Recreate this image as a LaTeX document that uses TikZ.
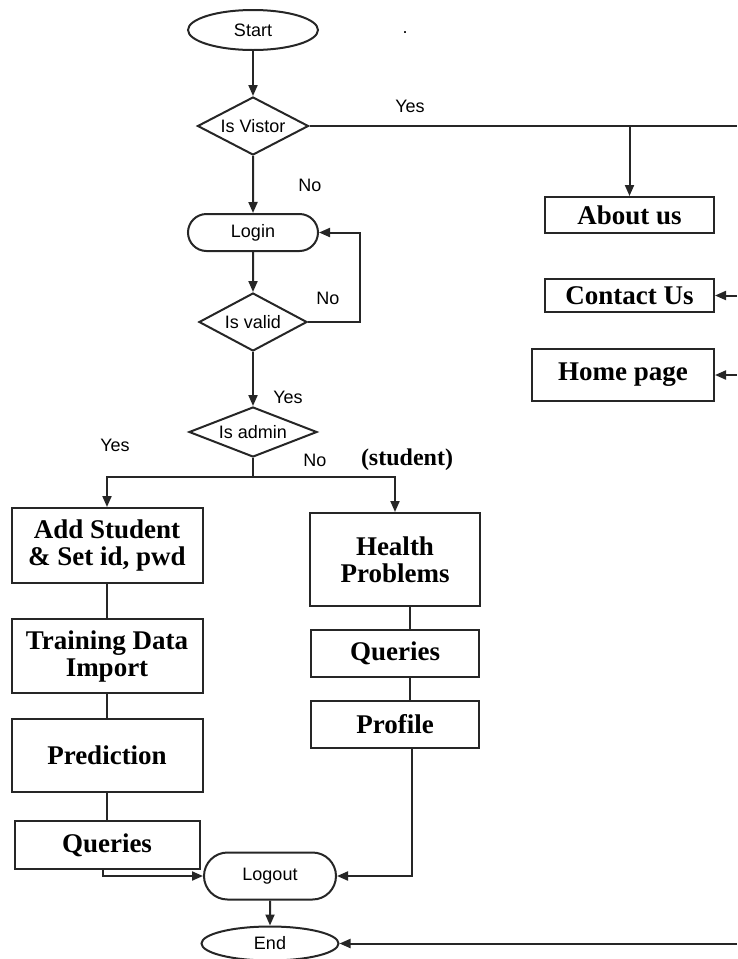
\documentclass[tikz,border=0pt]{standalone}
\usepackage{fontspec}
\setmainfont{Liberation Serif}
\setsansfont{Liberation Sans}
\usetikzlibrary{positioning, arrows.meta, shapes.geometric, shapes.misc}

\begin{document}
\begin{tikzpicture}[
    x=1pt, y=-1pt,
    line width=2pt, draw=black!85,
    every node/.style={align=center, inner sep=0pt},
    %% start / end terminal
    terminal/.style={
        draw, ellipse,
        font=\sffamily\fontsize{18}{21}\selectfont
    },
    %% login / logout
    pill/.style={
        draw, rounded rectangle,
        font=\sffamily\fontsize{18}{21}\selectfont
    },
    %% yes / no question
    decision/.style={
        draw, diamond,
        font=\sffamily\fontsize{18}{21}\selectfont
    },
    %% page or task box
    pagebox/.style={
        draw, rectangle,
        font=\bfseries\fontsize{27}{27}\selectfont
    },
    %% control flow
    flow/.style={-{Triangle[length=11pt,width=9pt]}},
    %% plain connector
    link/.style={-},
    %% edge label
    elab/.style={font=\sffamily\fontsize{18}{21}\selectfont}
]
\useasboundingbox (0,0) rectangle (737,959);

%%-------------------------------------------------------------- nodes
\node[terminal, minimum width=130pt, minimum height=40pt] (start) at (253,30) {Start};

\node[decision, aspect=1.9, minimum width=111pt, minimum height=58pt, below=45pt of start] (isvis) {Is Vistor};

\node[pill, minimum width=130pt, minimum height=37pt, below=57pt of isvis] (login) {Login};

\node[decision, aspect=1.86, minimum width=108pt, minimum height=58pt, below=40pt of login] (isvalid) {Is valid};

\node[decision, aspect=2.56, minimum width=128pt, minimum height=50pt, below=54pt of isvalid] (isadmin) {Is admin};

% visitor pages
\node[pagebox, minimum width=169pt, minimum height=36pt] (about) at (629.5,215) {About us};

\node[pagebox, minimum width=169pt, minimum height=33pt, below=44pt of about] (contact) {Contact Us};

\node[pagebox, minimum width=182pt, minimum height=52pt,
      below=35pt of contact.south east, anchor=north east] (home) {Home page};

% admin branch
\node[pagebox, minimum width=191pt, minimum height=75pt] (addstu) at (107,545.5) {Add Student\\\& Set id, pwd};

\node[pagebox, minimum width=191pt, minimum height=74pt, below=34pt of addstu] (training) {Training Data\\Import};

\node[pagebox, minimum width=191pt, minimum height=73pt, below=24pt of training] (predict) {Prediction};

\node[pagebox, minimum width=185pt, minimum height=48pt, below=27pt of predict] (qadmin) {Queries};

% student branch
\node[pagebox, minimum width=170pt, minimum height=93pt] (health) at (395,559.5) {Health\\Problems};

\node[pagebox, minimum width=168pt, minimum height=47pt, below=22pt of health] (qstudent) {Queries};

\node[pagebox, minimum width=168pt, minimum height=47pt, below=22pt of qstudent] (profile) {Profile};

% exit
\node[pill, minimum width=132pt, minimum height=47pt] (logout) at (270,876) {Logout};

\node[terminal, minimum width=137pt, minimum height=34pt, below=25pt of logout] (endnode) {End};

%%-------------------------------------------------------------- labels
\node[elab] (yesvis)     at (410,106) {Yes};
\node[elab] (novis)      at (310,185) {No};
\node[elab] (novalid)    at (328,298) {No};
\node[elab] (yesvalid)   at (288,397) {Yes};
\node[elab] (yesadmin)   at (115,445) {Yes};
\node[elab] (noadmin)    at (315,460) {No};
\node[font=\bfseries\fontsize{24}{24}\selectfont] (student) at (407,460) {(student)};
\node[elab] (dot)        at (405,33) {.};

%%-------------------------------------------------------------- edges
\coordinate (rbus) at (737,126);

\draw[flow] (start) -- (isvis);

% visitor goes to the public pages
\draw[link] (isvis.east) -- (isvis.east -| rbus);
\draw[flow] (about.north |- isvis.east) -- (about.north);
\draw[flow] (contact.east -| rbus) -- (contact.east);
\draw[flow] (home.east -| rbus) -- (home.east);
\draw[flow] (endnode.east -| rbus) -- (endnode.east);

% login loop
\draw[flow] (isvis) -- (login);
\draw[flow] (login) -- (isvalid);
\draw[flow] (isvalid.east) -- ++(52,0) |- (login.east);
\draw[flow] (isvalid) -- (isadmin);

% admin / student split
\draw[link] (isadmin.south) -- ++(0,19) coordinate (split);
\draw[flow] (split) -| (addstu.north);
\draw[flow] (split) -| (health.north);

% admin chain
\draw[link] (addstu) -- (training);
\draw[link] (training) -- (predict);
\draw[link] (predict) -- (qadmin);
\draw[flow] ([xshift=-4pt]qadmin.south) |- (logout.west);

% student chain
\draw[link] ([xshift=15pt]health.south) -- ([xshift=15pt]qstudent.north);
\draw[link] ([xshift=15pt]qstudent.south) -- ([xshift=15pt]profile.north);
\draw[flow] ([xshift=17pt]profile.south) |- (logout.east);

\draw[flow] (logout) -- (endnode);

\end{tikzpicture}
\end{document}
